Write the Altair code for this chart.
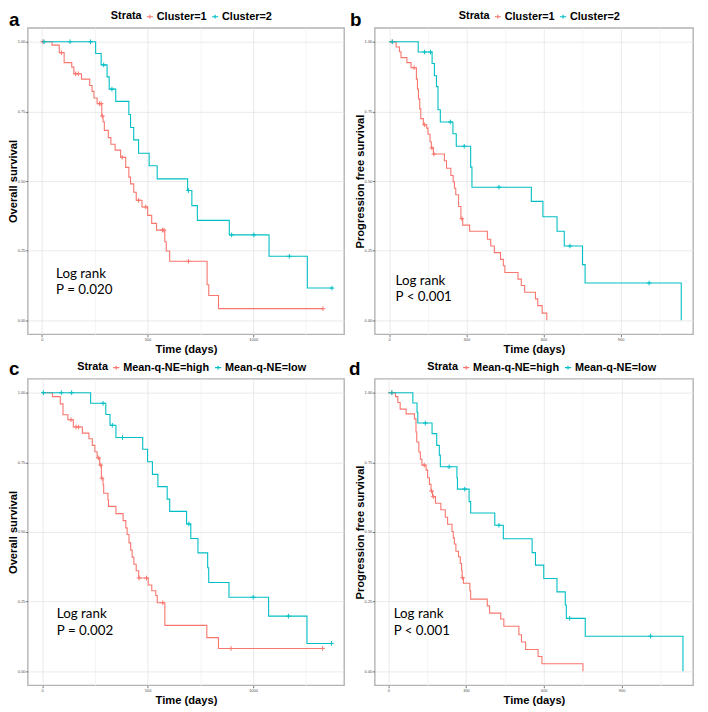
import altair as alt
import pandas as pd

RED = "#F8766D"
TEAL = "#00BFC4"
FONT = "Liberation Sans"
ANNOT_FONT = "Lato"

# ---------------- Panel a: overall survival by cluster ----------------
a_labels = ["Cluster=1", "Cluster=2"]
a_c1_time = [0, 49, 83, 106, 142, 152, 188, 227, 238, 247, 262, 284, 290, 296, 315, 327, 347, 373,
             397, 412, 420, 435, 447, 474, 501, 520, 543, 582, 589, 605, 782, 790, 836]
a_c1_surv = [1.0, 0.988, 0.961, 0.925, 0.909, 0.885, 0.866, 0.843, 0.822, 0.798, 0.778, 0.733, 0.713,
             0.682, 0.656, 0.632, 0.611, 0.585, 0.549, 0.514, 0.49, 0.46, 0.431, 0.407, 0.377, 0.348,
             0.324, 0.282, 0.249, 0.212, 0.128, 0.089, 0.042]
a_c1_cens = [5, 93, 160, 173, 273, 281, 287, 381, 458, 492, 571, 578, 694, 1330]
a_c2_time = [0, 255, 281, 309, 319, 350, 412, 420, 435, 458, 508, 546, 690, 710, 736, 887, 1075, 1256]
a_c2_surv = [1.0, 0.958, 0.917, 0.874, 0.830, 0.786, 0.739, 0.692, 0.648, 0.600, 0.555, 0.508, 0.466,
             0.412, 0.359, 0.307, 0.230, 0.116]
a_c2_cens = [11, 134, 231, 293, 332, 694, 898, 1003, 1171, 1373]
a_annot = ["Log rank\nP = 0.020", 68, 0.167]

# ---------------- Panel b: progression free survival by cluster ----------------
b_labels = ["Cluster=1", "Cluster=2"]
b_c1_time = [0, 27, 40, 46, 69, 85, 106, 110, 114, 119, 123, 133, 146, 151, 159, 164, 172, 215, 223,
             240, 249, 254, 259, 270, 279, 286, 313, 382, 395, 409, 433, 444, 450, 501, 514, 527, 569,
             578, 595, 613]
b_c1_surv = [1.0, 0.981, 0.964, 0.943, 0.925, 0.907, 0.866, 0.830, 0.795, 0.759, 0.724, 0.702, 0.690,
             0.668, 0.641, 0.619, 0.597, 0.573, 0.546, 0.52, 0.497, 0.474, 0.451, 0.409, 0.365, 0.342,
             0.32, 0.291, 0.267, 0.243, 0.219, 0.196, 0.172, 0.148, 0.125, 0.101, 0.077, 0.053, 0.026, 0.0]
b_c1_cens = [12, 97, 138, 166, 174, 283]
b_c2_time = [0, 113, 167, 176, 184, 190, 199, 248, 261, 317, 322, 553, 598, 653, 681, 752, 762, 1136]
b_c2_surv = [1.0, 0.963, 0.922, 0.878, 0.839, 0.756, 0.712, 0.670, 0.625, 0.55, 0.478, 0.427, 0.372,
             0.320, 0.267, 0.200, 0.134, 0.0]
b_c2_cens = [12, 138, 161, 238, 292, 427, 703, 1011]
b_annot = ["Log rank\nP < 0.001", 25, 0.142]

# ---------------- Panel c: overall survival by Mean-q-NE ----------------
c_labels = ["Mean-q-NE=high", "Mean-q-NE=low"]
c_c1_time = [0, 49, 86, 99, 122, 148, 191, 222, 238, 250, 261, 273, 281, 289, 292, 312, 315, 350, 384,
             397, 403, 412, 420, 427, 435, 446, 458, 503, 520, 539, 546, 582, 781, 836]
c_c1_surv = [1.0, 0.986, 0.960, 0.921, 0.903, 0.877, 0.855, 0.835, 0.811, 0.788, 0.766, 0.740, 0.693,
             0.669, 0.639, 0.616, 0.592, 0.566, 0.541, 0.515, 0.491, 0.461, 0.435, 0.410, 0.384, 0.361,
             0.335, 0.310, 0.289, 0.272, 0.246, 0.165, 0.121, 0.082]
c_c1_cens = [137, 161, 173, 268, 278, 284, 460, 495, 572, 896, 1330]
c_c2_time = [0, 230, 302, 322, 350, 477, 500, 523, 549, 593, 605, 685, 705, 739, 785, 790, 886, 1074, 1256]
c_c2_surv = [1.0, 0.962, 0.922, 0.883, 0.839, 0.797, 0.752, 0.707, 0.663, 0.618, 0.574, 0.529, 0.477,
             0.425, 0.372, 0.319, 0.266, 0.198, 0.100]
c_c2_cens = [6, 91, 140, 289, 333, 381, 696, 1001, 1168, 1372]
c_annot = ["Log rank\nP = 0.002", 70, 0.204]

# ---------------- Panel d: progression free survival by Mean-q-NE ----------------
d_labels = ["Mean-q-NE=high", "Mean-q-NE=low"]
d_c1_time = [0, 28, 37, 46, 69, 101, 107, 110, 118, 124, 130, 146, 152, 159, 165, 171, 182, 203, 220,
             229, 246, 251, 255, 261, 271, 278, 283, 285, 290, 315, 318, 382, 391, 434, 446, 504, 514,
             530, 578, 593, 751]
d_c1_surv = [1.0, 0.986, 0.965, 0.941, 0.924, 0.906, 0.859, 0.823, 0.787, 0.761, 0.740, 0.722, 0.695,
             0.671, 0.647, 0.627, 0.603, 0.580, 0.553, 0.528, 0.502, 0.479, 0.457, 0.431, 0.411, 0.387,
             0.362, 0.336, 0.316, 0.289, 0.259, 0.235, 0.209, 0.188, 0.162, 0.131, 0.105, 0.078, 0.053,
             0.027, 0.0]
d_c1_cens = [14, 139, 167, 174, 287]
d_c2_time = [0, 95, 111, 114, 169, 187, 197, 201, 265, 267, 312, 318, 411, 444, 555, 568, 600, 651, 683,
             687, 760, 1137]
d_c2_surv = [1.0, 0.963, 0.930, 0.891, 0.853, 0.811, 0.776, 0.734, 0.695, 0.654, 0.609, 0.568, 0.524,
             0.476, 0.426, 0.381, 0.333, 0.285, 0.238, 0.190, 0.126, 0.0]
d_c2_cens = [14, 143, 235, 295, 427, 700, 1012]
d_annot = ["Log rank\nP < 0.001", 21, 0.204]

# axis ticks
long_major = [0, 500, 1000]
long_minor = [250, 750, 1250]
short_major = [0, 300, 600, 900]
short_minor = [150, 450, 750, 1050]
y_major = [0, 0.25, 0.5, 0.75, 1.0]
y_minor = [0.125, 0.375, 0.625, 0.875]

PLUS_PATH = "M-1,0H1M0,-1V1"
LEGEND_PATH = "M-1,0H1M0,-0.6V0.6"
H = 310


def curve_frames(times, survs, cens, label):
    lt, ls = list(times), list(survs)
    end = max(cens) if cens else lt[-1]
    if end > lt[-1]:
        lt.append(end)
        ls.append(ls[-1])
    line = pd.DataFrame({"time": lt, "surv": ls, "strata": label})
    cv = []
    for c in cens:
        v = survs[0]
        for t, s in zip(times, survs):
            if t <= c:
                v = s
        cv.append(v)
    pts = pd.DataFrame({"time": cens, "surv": cv, "strata": label})
    return line, pts


def panel(letter, letter_x, letter_y, c1, c2, labels, ytitle, xdomain, xmajor, xminor,
          annot, legend_x, width):
    l1, p1 = curve_frames(*c1, labels[0])
    l2, p2 = curve_frames(*c2, labels[1])
    lines = pd.concat([l1, l2], ignore_index=True)
    pts = pd.concat([p1, p2], ignore_index=True)

    xtest = f"indexof({xmajor}, datum.value) >= 0"
    ytest = "round(datum.value * 8) % 2 == 0"
    xscale = alt.Scale(domain=xdomain, nice=False, zero=False)
    yscale = alt.Scale(domain=[-0.05, 1.05], nice=False, zero=False)
    xaxis = alt.Axis(
        values=sorted(xmajor + xminor), format="d", title="Time (days)",
        labelExpr=f"{xtest} ? datum.label : ''",
        gridColor={"condition": {"test": xtest, "value": "#e4e4e4"}, "value": "#f2f2f2"},
        tickOpacity={"condition": {"test": xtest, "value": 1}, "value": 0},
    )
    yaxis = alt.Axis(
        values=sorted(y_major + y_minor), format=".2f", title=ytitle, titleX=-9,
        labelExpr=f"{ytest} ? datum.label : ''",
        gridColor={"condition": {"test": ytest, "value": "#e4e4e4"}, "value": "#f2f2f2"},
        tickOpacity={"condition": {"test": ytest, "value": 1}, "value": 0},
    )
    cscale = alt.Scale(domain=labels, range=[RED, TEAL])
    legend = alt.Legend(
        orient="none", legendX=legend_x, legendY=-17, direction="horizontal",
        title="Strata", titleOrient="left", titleFont=FONT, titleFontSize=11,
        titleFontWeight="bold", titleColor="black", titlePadding=2, titleBaseline="middle",
        labelFont=FONT, labelFontSize=11, labelFontWeight="bold", labelColor="black",
        labelOffset=1.5, columnPadding=2, padding=0, symbolType=LEGEND_PATH,
        symbolSize=40, symbolStrokeWidth=1.2,
    )

    line_layer = alt.Chart(lines).mark_line(interpolate="step-after", strokeWidth=1.1).encode(
        x=alt.X("time:Q", scale=xscale, axis=xaxis),
        y=alt.Y("surv:Q", scale=yscale, axis=yaxis),
        color=alt.Color("strata:N", scale=cscale, legend=legend),
    )
    pt_layer = alt.Chart(pts).mark_point(shape=PLUS_PATH, size=22, filled=False, strokeWidth=1,
                                         opacity=1).encode(
        x=alt.X("time:Q", scale=xscale),
        y=alt.Y("surv:Q", scale=yscale),
        color=alt.Color("strata:N", scale=cscale, legend=None),
    )
    annot_df = pd.DataFrame({"label": [annot[0]], "time": [annot[1]], "surv": [annot[2]]})
    annot_layer = alt.Chart(annot_df).mark_text(
        align="left", baseline="middle", lineBreak="\n", font=ANNOT_FONT, fontSize=13.5,
        lineHeight=16.5, color="black").encode(
        x=alt.X("time:Q", scale=xscale),
        y=alt.Y("surv:Q", scale=yscale),
        text="label:N",
    )
    letter_df = pd.DataFrame({"letter": [letter]})
    letter_layer = alt.Chart(letter_df).mark_text(
        align="left", baseline="alphabetic", font=FONT, fontSize=19, fontWeight="bold",
        color="black").encode(
        x=alt.value(letter_x), y=alt.value(letter_y), text="letter:N")

    return alt.layer(line_layer, pt_layer, annot_layer, letter_layer).properties(
        width=width, height=H)


pa = panel("a", -19, -2, (a_c1_time, a_c1_surv, a_c1_cens), (a_c2_time, a_c2_surv, a_c2_cens),
           a_labels, "Overall survival", [-66, 1430], long_major, long_minor, a_annot, 84, 320)
pb = panel("b", -25, -2, (b_c1_time, b_c1_surv, b_c1_cens), (b_c2_time, b_c2_surv, b_c2_cens),
           b_labels, "Progression free survival", [-56, 1182], short_major, short_minor, b_annot,
           85, 322)
pc = panel("c", -19, -4, (c_c1_time, c_c1_surv, c_c1_cens), (c_c2_time, c_c2_surv, c_c2_cens),
           c_labels, "Overall survival", [-68, 1432], long_major, long_minor, c_annot, 50, 320)
pd_ = panel("d", -26, -3.5, (d_c1_time, d_c1_surv, d_c1_cens), (d_c2_time, d_c2_surv, d_c2_cens),
            d_labels, "Progression free survival", [-52, 1176], short_major, short_minor, d_annot,
            53, 322)

PAD_L, PAD_T = 20, 16
chart = alt.concat(pa, pb, pc, pd_, columns=2, spacing={"row": 45, "column": 31},
                   bounds="flush").resolve_scale(
    color="independent", x="independent", y="independent").resolve_legend(
    color="independent").properties(
    autosize=alt.AutoSizeParams(type="none"),
    padding={"left": PAD_L, "top": PAD_T, "right": 700 - PAD_L, "bottom": 704 - PAD_T},
).configure_view(
    stroke="#b3b3b3", strokeWidth=1.4).configure_axis(
    labelFont=FONT, labelFontSize=4, labelColor="#4d4d4d", labelPadding=0.5,
    tickColor="#555555", tickSize=2.5, tickWidth=0.8, domain=False, gridWidth=0.8,
    titleFont=FONT, titleFontSize=11.3, titleFontWeight="bold", titleColor="black",
    titlePadding=2.5)

chart.save("out.html", embed_options={"renderer": "svg", "actions": False})
